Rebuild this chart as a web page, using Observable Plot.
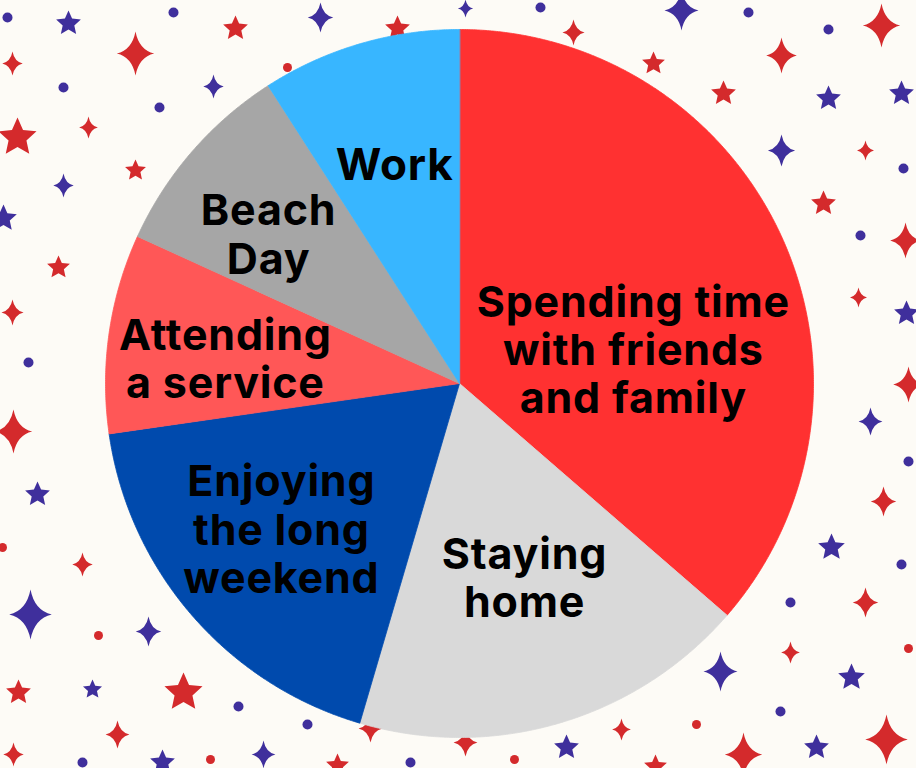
<!DOCTYPE html>
<html>
<head>
<meta charset="utf-8">
<script src="https://cdn.jsdelivr.net/npm/d3@7"></script>
<script src="https://cdn.jsdelivr.net/npm/@observablehq/plot@0.6"></script>
<style>
html, body { margin: 0; padding: 0; background: #fdfbf6; }
#chart svg { display: block; }
</style>
</head>
<body>
<div id="chart"></div>
<script>
// ---- chart data ----
const categories = [
  "Spending time with friends and family",
  "Staying home",
  "Enjoying the long weekend",
  "Attending a service",
  "Beach Day",
  "Work"
];
const labels = [
  "Spending time\nwith friends\nand family",
  "Staying\nhome",
  "Enjoying\nthe long\nweekend",
  "Attending\na service",
  "Beach\nDay",
  "Work"
];
const values = [40, 20, 20, 10, 10, 10];
const colors = ["#ff3131", "#d9d9d9", "#004aad", "#ff5757", "#a6a6a6", "#38b6ff"];

// ---- decorative background (x, y, radius) ----
const redSparkles = [[12,63,12],[135,53,22],[88,127,11],[12,312,13],[573,32,13],[881,25,22],[781,55,18],[865,150,10],[905,240,18],[858,297,10],[908,384,18],[13,431,22],[82,564,12],[117,734,14],[13,754,12],[883,501,15],[865,602,15],[790,652,11],[621,729,11],[886,739,25],[743,754,22],[370,728,14],[465,742,14]];
const blueSparkles = [[320,17,15],[213,86,12],[63,185,12],[465,8,9],[681,10,20],[781,150,16],[30,614,25],[148,631,15],[263,754,14],[870,421,14],[720,671,20]];
const redStars = [[235,28,13],[397,28,13],[17,137,20],[135,170,11],[58,267,12],[653,63,12],[723,93,13],[823,203,13],[18,692,13],[183,692,20],[337,765,12],[655,766,12]];
const blueStars = [[68,23,13],[3,218,14],[828,98,13],[901,93,13],[906,313,13],[37,494,13],[92,689,10],[162,762,13],[831,547,14],[851,677,14],[566,747,13],[816,747,13]];
const redDots = [[287,67,4.5],[2,547,4.5],[98,635,4.5],[210,759,4.5],[908,648,4.5],[696,724,4.5],[514,759,4.5]];
const blueDots = [[7,17,5],[173,12,5],[63,87,5],[159,107,5],[28,362,5],[540,7,5],[748,12,5],[828,29,5],[903,168,5],[860,235,5],[238,706,5],[307,724,5],[82,762,5],[410,762,5],[908,461,5],[901,564,5],[790,602,5],[780,711,5]];

// ---- layout / style ----
const W = 916, H = 768;
const cx = 459, cy = 383, R = 354;
const RED = "#d42a2c", BLUE = "#3f2f9c";
// label placement: fraction along slice angle, fraction of radius, font size
const labelPlace = [
  {a: 0.604, r: 0.50, size: 43},
  {a: 0.467, r: 0.578, size: 43},
  {a: 0.525, r: 0.65, size: 43},
  {a: 0.436, r: 0.665, size: 43},
  {a: 0.413, r: 0.685, size: 43},
  {a: 0.496, r: 0.645, size: 44}
];

// custom symbols
const sparkle = {
  draw(ctx, size) {
    const r = Math.sqrt(size / Math.PI), w = r * 0.85, c = r * 0.16;
    ctx.moveTo(0, -r);
    ctx.quadraticCurveTo(c, -c, w, 0);
    ctx.quadraticCurveTo(c, c, 0, r);
    ctx.quadraticCurveTo(-c, c, -w, 0);
    ctx.quadraticCurveTo(-c, -c, 0, -r);
    ctx.closePath();
  }
};
const star5 = {
  draw(ctx, size) {
    const r = Math.sqrt(size / Math.PI), ri = r * 0.47;
    for (let i = 0; i < 10; i++) {
      const a = i * Math.PI / 5, rr = i % 2 ? ri : r;
      const x = rr * Math.sin(a), y = -rr * Math.cos(a);
      if (i === 0) ctx.moveTo(x, y); else ctx.lineTo(x, y);
    }
    ctx.closePath();
  }
};

// pie geometry from data
const arcs = d3.pie().sort(null).value(d => d)(values);
const wedgePts = [];
arcs.forEach((a, i) => {
  const cat = categories[i];
  wedgePts.push({cat, x: cx, y: cy});
  const n = Math.max(2, Math.ceil((a.endAngle - a.startAngle) / 0.005));
  for (let k = 0; k <= n; k++) {
    const t = a.startAngle + (a.endAngle - a.startAngle) * k / n;
    wedgePts.push({cat, x: cx + R * Math.sin(t), y: cy - R * Math.cos(t)});
  }
});
const labelData = arcs.map((a, i) => {
  const p = labelPlace[i];
  const t = a.startAngle + (a.endAngle - a.startAngle) * p.a;
  return {text: labels[i], size: p.size, x: cx + p.r * R * Math.sin(t), y: cy - p.r * R * Math.cos(t)};
});

const chart = Plot.plot({
  width: W,
  height: H,
  margin: 0,
  x: {domain: [0, W], range: [0, W], axis: null},
  y: {domain: [0, H], range: [0, H], axis: null},
  r: {type: "identity"},
  color: {domain: categories, range: colors},
  style: {background: "#fdfbf6", overflow: "hidden"},
  marks: [
    Plot.dot(redSparkles, {x: d => d[0], y: d => d[1], r: d => d[2], symbol: sparkle, fill: RED, stroke: null}),
    Plot.dot(blueSparkles, {x: d => d[0], y: d => d[1], r: d => d[2], symbol: sparkle, fill: BLUE, stroke: null}),
    Plot.dot(redStars, {x: d => d[0], y: d => d[1], r: d => d[2], symbol: star5, fill: RED, stroke: null}),
    Plot.dot(blueStars, {x: d => d[0], y: d => d[1], r: d => d[2], symbol: star5, fill: BLUE, stroke: null}),
    Plot.dot(redDots, {x: d => d[0], y: d => d[1], r: d => d[2], fill: RED, stroke: null}),
    Plot.dot(blueDots, {x: d => d[0], y: d => d[1], r: d => d[2], fill: BLUE, stroke: null}),
    Plot.line(wedgePts, {x: "x", y: "y", z: "cat", fill: "cat", stroke: "cat", strokeWidth: 0.8, curve: "linear-closed"}),
    Plot.text(labelData, {
      x: "x", y: "y", text: "text", fontSize: d => d.size,
      fontFamily: "Inter, 'Open Sans', sans-serif", fontWeight: 700,
      lineHeight: 1.12, fill: "#000", textAnchor: "middle",
      className: "slice-label"
    })
  ]
});
d3.select(chart).selectAll(".slice-label text").attr("letter-spacing", "0.8px");
document.getElementById("chart").appendChild(chart);
</script>
</body>
</html>
